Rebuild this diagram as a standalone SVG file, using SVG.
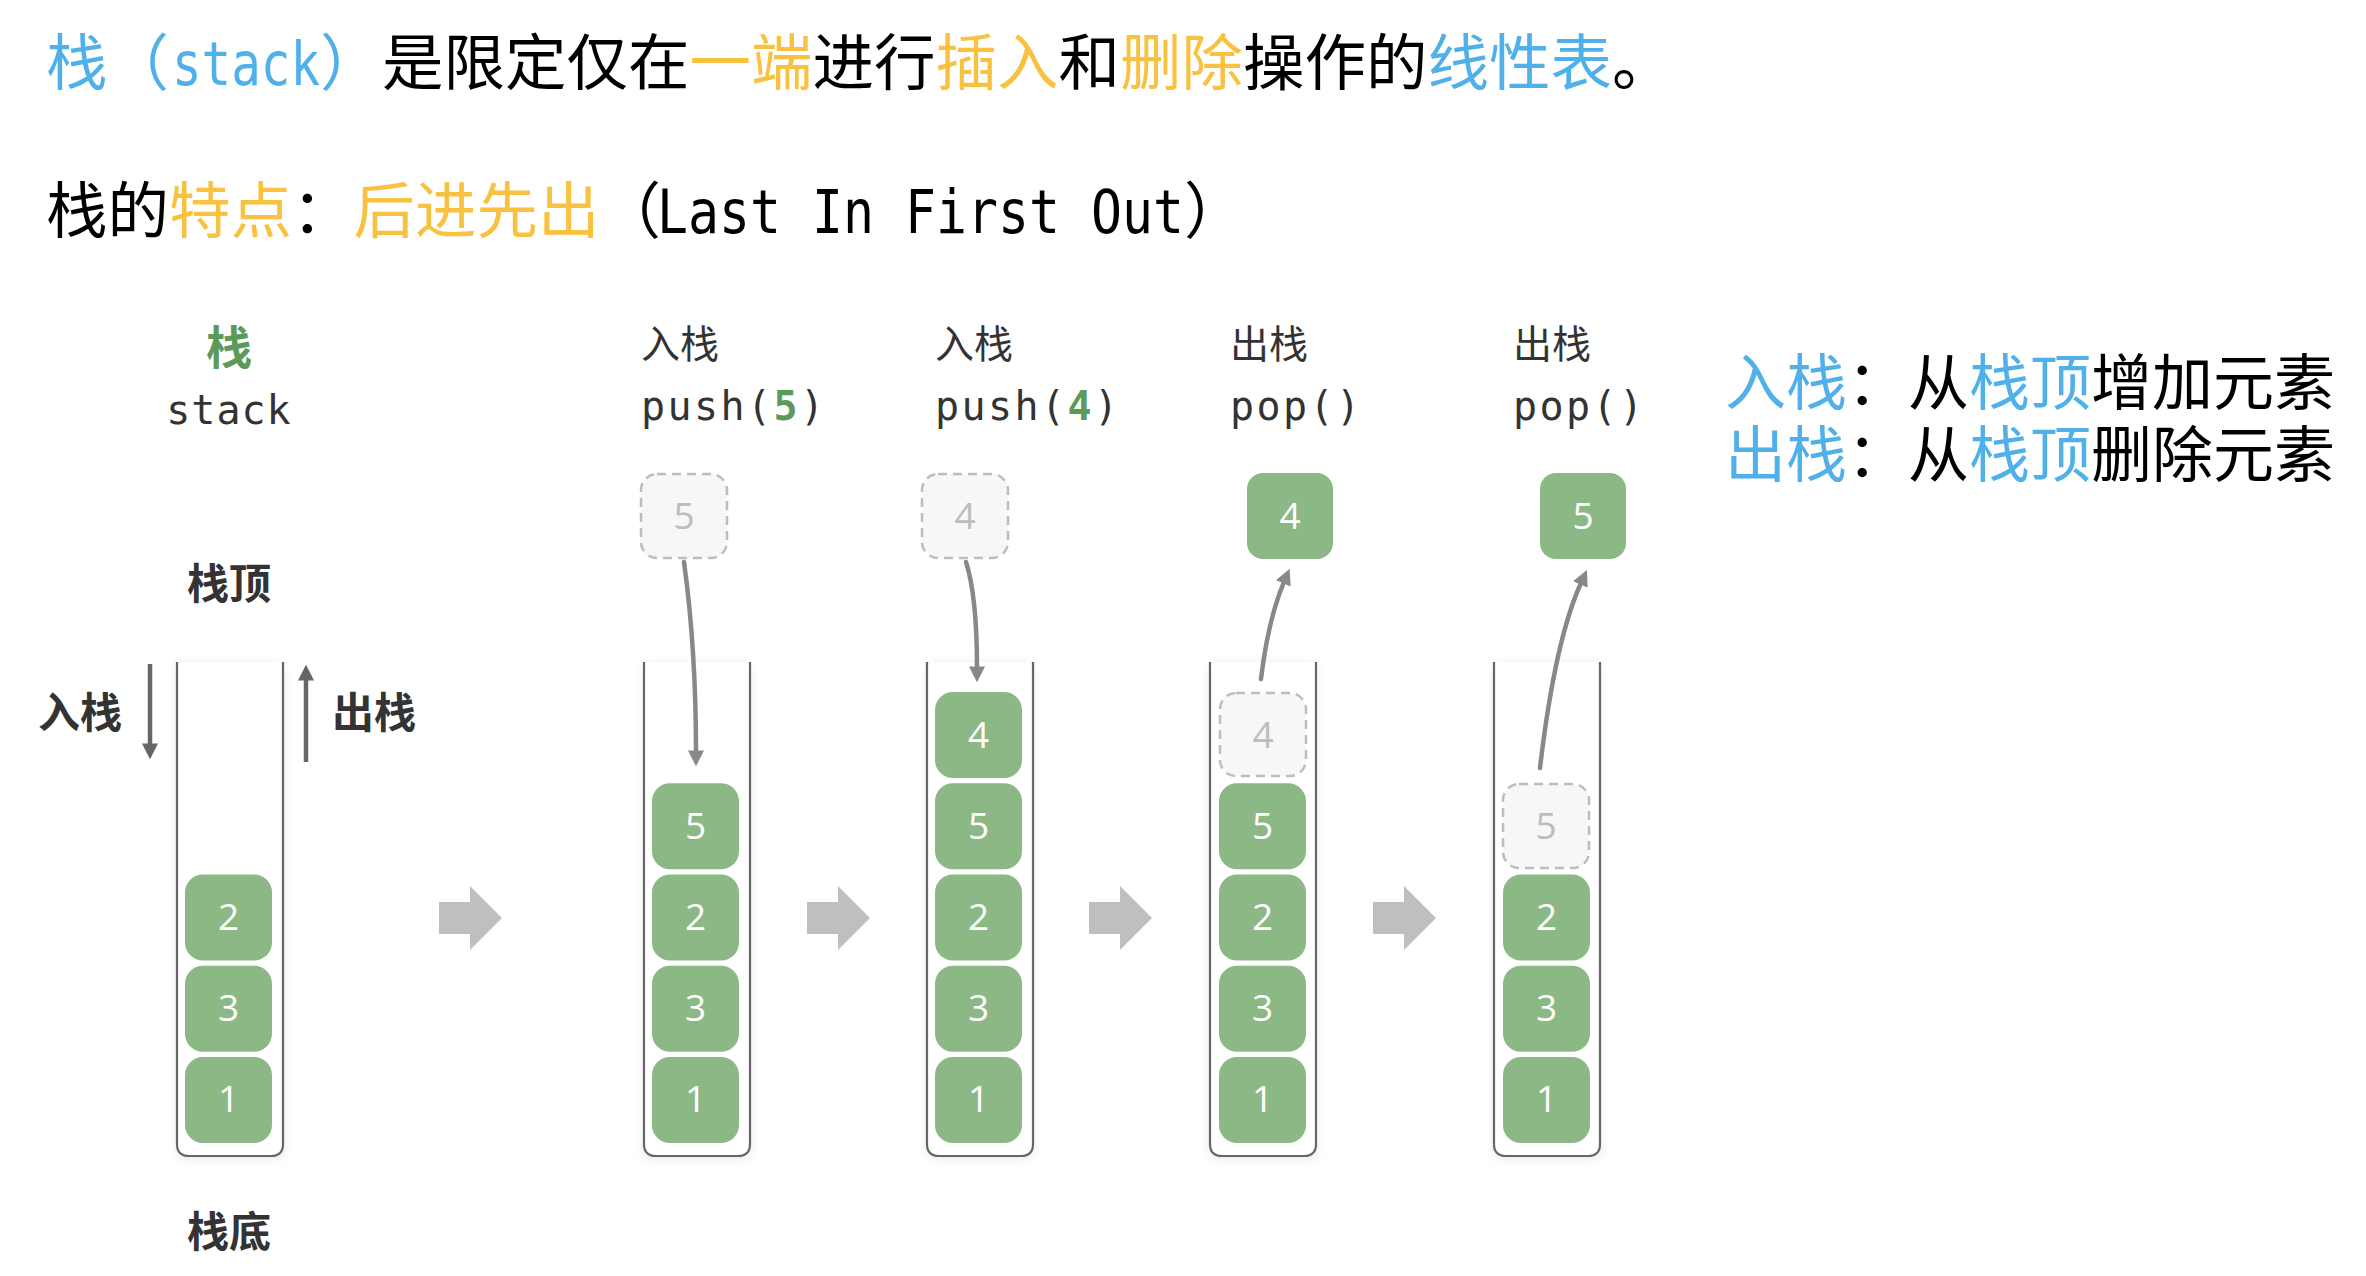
<svg xmlns="http://www.w3.org/2000/svg" width="2366" height="1276" viewBox="0 0 2366 1276">
<defs>
<style>
.cjk{font-family:"Noto Sans CJK SC","Noto Sans CJK JP",sans-serif;}
.mono{font-family:"DejaVu Sans Mono","Liberation Mono",monospace;}
.big{font-size:61.5px;}
.blue{fill:#4FB0EA;}
.yel{fill:#F8C240;}
.blk{fill:#000;}
.lab{font-size:39px;fill:#333;}
.code{font-size:40px;fill:#333;letter-spacing:2.4px;}
.gnum{fill:#5B9A58;font-weight:700;}
.head{font-size:42px;fill:#333;font-weight:700;}
.blk-box{fill:#8CB886;}
.dash-box{fill:#F7F7F7;stroke:#BDBDBD;stroke-width:2.5;stroke-dasharray:9 6;}
.num{font-family:"Open Sans","Liberation Sans",sans-serif;font-size:37px;text-anchor:middle;fill:#fff;}
.dnum{fill:#BDBDBD;}
.wall{fill:none;stroke:#666;stroke-width:2.2;}
.cont{fill:#fff;filter:url(#sh);}
.conn{fill:none;stroke:#888;stroke-width:4.5;stroke-linecap:round;marker-end:url(#ah);}
.conn2{fill:none;stroke:#666;stroke-width:4.5;marker-end:url(#ah2);}
.bigarrow{fill:#BFBFBF;}
</style>
<filter id="sh" x="-30%" y="-10%" width="160%" height="120%">
<feDropShadow dx="0" dy="2" stdDeviation="5" flood-color="#000" flood-opacity="0.10"/>
</filter>
<marker id="ah" viewBox="0 0 10 10" refX="1" refY="5" markerWidth="16" markerHeight="16" markerUnits="userSpaceOnUse" orient="auto">
<path d="M0,0 L10,5 L0,10 z" fill="#888"/>
</marker>
<marker id="ah2" viewBox="0 0 10 10" refX="1" refY="5" markerWidth="16" markerHeight="16" markerUnits="userSpaceOnUse" orient="auto">
<path d="M0,0 L10,5 L0,10 z" fill="#666"/>
</marker>
</defs>
<rect width="2366" height="1276" fill="#fff"/>

<g id="title">
<text class="cjk big" y="85"><tspan class="blue" x="46">栈（</tspan><tspan class="mono blue" x="172" font-size="60" textLength="148" lengthAdjust="spacingAndGlyphs">stack</tspan><tspan class="blue" x="320">）</tspan><tspan class="blk" x="382">是限定仅在</tspan><tspan class="yel" x="689.5">一端</tspan><tspan class="blk" x="812.5">进行</tspan><tspan class="yel" x="935.5">插入</tspan><tspan class="blk" x="1058.5">和</tspan><tspan class="yel" x="1120">删除</tspan><tspan class="blk" x="1243">操作的</tspan><tspan class="blue" x="1427.5">线性表</tspan><tspan class="blk" x="1612">。</tspan></text>
<text class="cjk big" y="233"><tspan class="blk" x="46">栈的</tspan><tspan class="yel" x="169">特点</tspan><tspan class="blk" x="292">：</tspan><tspan class="yel" x="353.5">后进先出</tspan><tspan class="blk" x="599.5">（</tspan><tspan class="mono blk" x="657" font-size="61" textLength="527" lengthAdjust="spacingAndGlyphs">Last In First Out</tspan><tspan class="blk" x="1184">）</tspan></text>
</g>

<g id="legend">
<text class="cjk" font-size="61"><tspan class="blue" x="1725" y="405">入栈</tspan><tspan class="blk" x="1847" y="405">：从</tspan><tspan class="blue" x="1969" y="405">栈顶</tspan><tspan class="blk" x="2091" y="405">增加元素</tspan><tspan class="blue" x="1725" y="477">出栈</tspan><tspan class="blk" x="1847" y="477">：从</tspan><tspan class="blue" x="1969" y="477">栈顶</tspan><tspan class="blk" x="2091" y="477">删除元素</tspan></text>
</g>

<!-- Stack 1: initial -->
<g id="stack-initial">
<text class="cjk gnum" x="229" y="364" font-size="46" text-anchor="middle">栈</text>
<text class="mono" x="229" y="424" font-size="40" fill="#333" text-anchor="middle" letter-spacing="1">stack</text>
<text class="cjk head" x="229" y="599" text-anchor="middle">栈顶</text>
<text class="cjk head" x="80" y="728" text-anchor="middle">入栈</text>
<text class="cjk head" x="374" y="728" text-anchor="middle">出栈</text>
<text class="cjk head" x="229" y="1247" text-anchor="middle">栈底</text>
<rect class="cont" x="177" y="662" width="106" height="494" rx="6"/>
<path class="wall" d="M177,662 V1144 Q177,1156 189,1156 H271 Q283,1156 283,1144 V662"/>
<rect class="blk-box" x="185" y="874.5" width="87" height="86" rx="18"/>
<text class="num" x="228.5" y="930">2</text>
<rect class="blk-box" x="185" y="965.75" width="87" height="86" rx="18"/>
<text class="num" x="228.5" y="1021">3</text>
<rect class="blk-box" x="185" y="1057" width="87" height="86" rx="18"/>
<text class="num" x="228.5" y="1112">1</text>
</g>

<!-- Stack 2: push(5) -->
<g id="stack-push5">
<text class="cjk lab" x="641" y="358">入栈</text>
<text class="mono code" x="641" y="420">push(<tspan class="gnum">5</tspan>)</text>
<rect class="dash-box" x="641" y="474" width="86" height="84" rx="16"/>
<text class="num dnum" x="684" y="529">5</text>
<rect class="cont" x="644" y="662" width="106" height="494" rx="6"/>
<path class="wall" d="M644,662 V1144 Q644,1156 656,1156 H738 Q750,1156 750,1144 V662"/>
<rect class="blk-box" x="652" y="783.25" width="87" height="86" rx="18"/>
<text class="num" x="695.5" y="839">5</text>
<rect class="blk-box" x="652" y="874.5" width="87" height="86" rx="18"/>
<text class="num" x="695.5" y="930">2</text>
<rect class="blk-box" x="652" y="965.75" width="87" height="86" rx="18"/>
<text class="num" x="695.5" y="1021">3</text>
<rect class="blk-box" x="652" y="1057" width="87" height="86" rx="18"/>
<text class="num" x="695.5" y="1112">1</text>
</g>

<!-- Stack 3: push(4) -->
<g id="stack-push4">
<text class="cjk lab" x="935" y="358">入栈</text>
<text class="mono code" x="935" y="420">push(<tspan class="gnum">4</tspan>)</text>
<rect class="dash-box" x="922" y="474" width="86" height="84" rx="16"/>
<text class="num dnum" x="965" y="529">4</text>
<rect class="cont" x="927" y="662" width="106" height="494" rx="6"/>
<path class="wall" d="M927,662 V1144 Q927,1156 939,1156 H1021 Q1033,1156 1033,1144 V662"/>
<rect class="blk-box" x="935" y="692" width="87" height="86" rx="18"/>
<text class="num" x="978.5" y="748">4</text>
<rect class="blk-box" x="935" y="783.25" width="87" height="86" rx="18"/>
<text class="num" x="978.5" y="839">5</text>
<rect class="blk-box" x="935" y="874.5" width="87" height="86" rx="18"/>
<text class="num" x="978.5" y="930">2</text>
<rect class="blk-box" x="935" y="965.75" width="87" height="86" rx="18"/>
<text class="num" x="978.5" y="1021">3</text>
<rect class="blk-box" x="935" y="1057" width="87" height="86" rx="18"/>
<text class="num" x="978.5" y="1112">1</text>
</g>

<!-- Stack 4: pop() 4 -->
<g id="stack-pop4">
<text class="cjk lab" x="1230" y="358">出栈</text>
<text class="mono code" x="1230" y="420">pop()</text>
<rect class="blk-box" x="1247" y="473" width="86" height="86" rx="16"/>
<text class="num" x="1290" y="529">4</text>
<rect class="cont" x="1210" y="662" width="106" height="494" rx="6"/>
<path class="wall" d="M1210,662 V1144 Q1210,1156 1222,1156 H1304 Q1316,1156 1316,1144 V662"/>
<rect class="dash-box" x="1220" y="693" width="86" height="83" rx="16"/>
<text class="num dnum" x="1263" y="748">4</text>
<rect class="blk-box" x="1219" y="783.25" width="87" height="86" rx="18"/>
<text class="num" x="1262.5" y="839">5</text>
<rect class="blk-box" x="1219" y="874.5" width="87" height="86" rx="18"/>
<text class="num" x="1262.5" y="930">2</text>
<rect class="blk-box" x="1219" y="965.75" width="87" height="86" rx="18"/>
<text class="num" x="1262.5" y="1021">3</text>
<rect class="blk-box" x="1219" y="1057" width="87" height="86" rx="18"/>
<text class="num" x="1262.5" y="1112">1</text>
</g>

<!-- Stack 5: pop() 5 -->
<g id="stack-pop5">
<text class="cjk lab" x="1513" y="358">出栈</text>
<text class="mono code" x="1513" y="420">pop()</text>
<rect class="blk-box" x="1540" y="473" width="86" height="86" rx="16"/>
<text class="num" x="1583" y="529">5</text>
<rect class="cont" x="1494" y="662" width="106" height="494" rx="6"/>
<path class="wall" d="M1494,662 V1144 Q1494,1156 1506,1156 H1588 Q1600,1156 1600,1144 V662"/>
<rect class="dash-box" x="1503" y="784" width="86" height="84" rx="16"/>
<text class="num dnum" x="1546" y="839">5</text>
<rect class="blk-box" x="1503" y="874.5" width="87" height="86" rx="18"/>
<text class="num" x="1546.5" y="930">2</text>
<rect class="blk-box" x="1503" y="965.75" width="87" height="86" rx="18"/>
<text class="num" x="1546.5" y="1021">3</text>
<rect class="blk-box" x="1503" y="1057" width="87" height="86" rx="18"/>
<text class="num" x="1546.5" y="1112">1</text>
</g>

<g id="connectors">
<path class="conn2" d="M150,664 V745"/>
<path class="conn2" d="M306,762 V679"/>
<path class="conn" d="M684,562 C692,620 696,680 696,752"/>
<path class="conn" d="M966,562 C975,590 977,630 977,668"/>
<path class="conn" d="M1261,679 Q1268,620 1284,582"/>
<path class="conn" d="M1540,768 Q1555,640 1581,583"/>
<polygon class="bigarrow" points="439,902 470,902 470,886 502,918 470,950 470,934 439,934"/>
<polygon class="bigarrow" points="807,902 838,902 838,886 870,918 838,950 838,934 807,934"/>
<polygon class="bigarrow" points="1089,902 1120,902 1120,886 1152,918 1120,950 1120,934 1089,934"/>
<polygon class="bigarrow" points="1373,902 1404,902 1404,886 1436,918 1404,950 1404,934 1373,934"/>
</g>
</svg>
